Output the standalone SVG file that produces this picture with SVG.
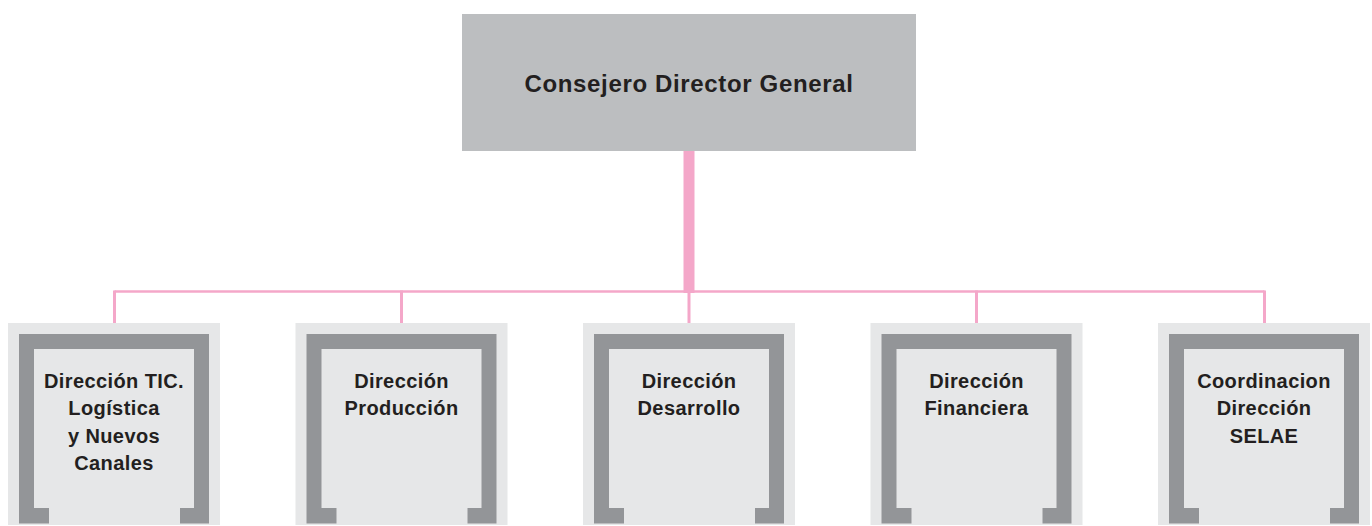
<svg xmlns="http://www.w3.org/2000/svg" width="1372" height="526" viewBox="0 0 1372 526">
<defs>
<style>
.bg{fill:#e6e7e8}
.frame{fill:#939598}
.top{fill:#bcbec0}
.t{font-family:"Liberation Sans",Arial,sans-serif;font-weight:bold;fill:#231f20;text-anchor:middle}
.t1{font-size:24px;letter-spacing:0.65px}
.t2{font-size:20px;letter-spacing:0.4px}
.ln{stroke:#f4a7c9;fill:none}
</style>
<path id="fr" d="M11,11 H201 V200.5 H172 V185 H186 V26 H26 V185 H41 V200.5 H11 Z"/>
</defs>
<rect width="1372" height="526" fill="#ffffff"/>
<g id="connectors">
<rect x="683.5" y="151" width="11" height="142" fill="#f4a7c9"/>
<path class="ln" stroke-width="2.6" d="M114.5,291.5 H1264.5"/>
<path class="ln" stroke-width="3" d="M114.5,290.5 V323 M401.5,290.5 V323 M689,290.5 V323 M976.5,290.5 V323 M1264.5,290.5 V323"/>
</g>
<g id="n0">
<rect class="top" x="462" y="14" width="454" height="137"/>
<text class="t t1" x="689" y="92">Consejero Director General</text>
</g>
<g id="n1" transform="translate(8,323)">
<rect class="bg" width="212" height="202"/>
<use href="#fr" class="frame"/>
<text class="t t2" x="106" y="65">Dirección TIC.</text>
<text class="t t2" x="106" y="92.4">Logística</text>
<text class="t t2" x="106" y="119.8">y Nuevos</text>
<text class="t t2" x="106" y="147.2">Canales</text>
</g>
<g id="n2" transform="translate(295.5,323)">
<rect class="bg" width="212" height="202"/>
<use href="#fr" class="frame"/>
<text class="t t2" x="106" y="65">Dirección</text>
<text class="t t2" x="106" y="92.4">Producción</text>
</g>
<g id="n3" transform="translate(583,323)">
<rect class="bg" width="212" height="202"/>
<use href="#fr" class="frame"/>
<text class="t t2" x="106" y="65">Dirección</text>
<text class="t t2" x="106" y="92.4">Desarrollo</text>
</g>
<g id="n4" transform="translate(870.5,323)">
<rect class="bg" width="212" height="202"/>
<use href="#fr" class="frame"/>
<text class="t t2" x="106" y="65">Dirección</text>
<text class="t t2" x="106" y="92.4">Financiera</text>
</g>
<g id="n5" transform="translate(1158,323)">
<rect class="bg" width="212" height="202"/>
<use href="#fr" class="frame"/>
<text class="t t2" x="106" y="65">Coordinacion</text>
<text class="t t2" x="106" y="92.4">Dirección</text>
<text class="t t2" x="106" y="119.8">SELAE</text>
</g>
</svg>
